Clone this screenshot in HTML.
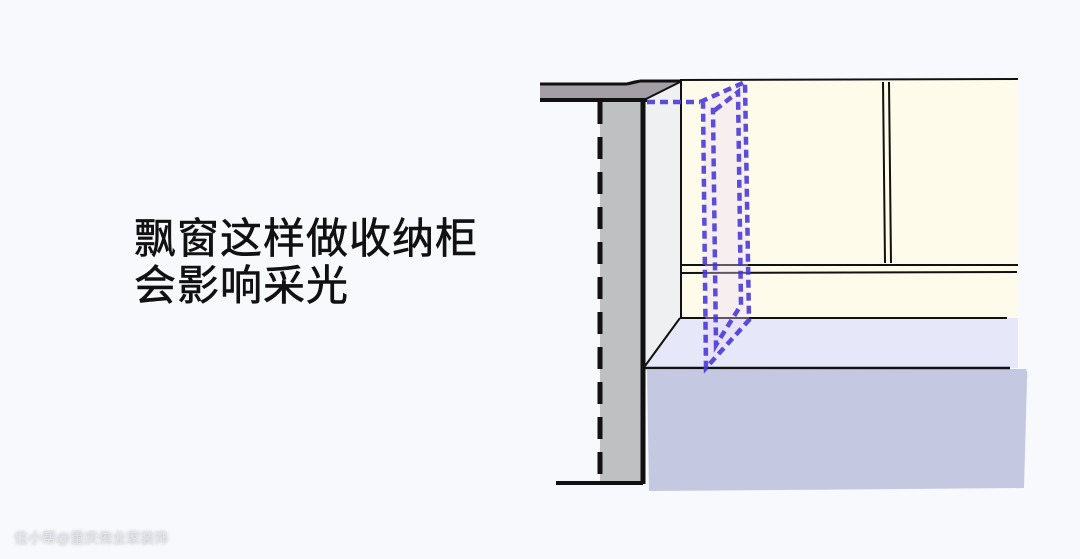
<!DOCTYPE html>
<html><head><meta charset="utf-8"><style>
body{margin:0;width:1080px;height:559px;background:#f8f9fd;overflow:hidden;position:relative;font-family:"Liberation Sans","Noto Sans CJK SC",sans-serif}
.t{position:absolute;left:134px;font-size:42px;color:#111;line-height:1;letter-spacing:1px;-webkit-text-stroke:0.6px #111}
.w{position:absolute;left:14px;top:528px;font-size:14px;color:#e4e6ee;text-shadow:0 0 3px #aaa}
</style></head><body>
<div class="t" style="top:218px">飘窗这样做收纳柜</div>
<div class="t" style="top:265px">会影响采光</div>
<div class="w">住小帮@重庆侑业家装饰</div>
<svg width="1080" height="559" style="position:absolute;left:0;top:0">
<rect x="680" y="80" width="338" height="240" fill="#fffbeb"/>
<polygon points="645,100 680,82 680,318 645,368" fill="#eef0f2"/>
<polygon points="645,368 680,318 1018,318 1018,368" fill="#e6e8f9"/>
<path d="M647,370 L1026,369 Q1028,372 1027,380 L1024,488 L649,491 Z" fill="#c5c8e1"/>
<rect x="600" y="100" width="42" height="383" fill="#bfc0c2"/>
<polygon points="540,83 625,83 635,80 680,81 645,100 540,100" fill="#a49ea6"/>
<line x1="540" y1="84" x2="627" y2="84" stroke="#111" stroke-width="3"/>
<line x1="627" y1="84" x2="640" y2="81" stroke="#111" stroke-width="3"/>
<line x1="640" y1="81" x2="680" y2="81" stroke="#111" stroke-width="3"/>
<line x1="540" y1="100" x2="647" y2="100" stroke="#111" stroke-width="4"/>
<line x1="644" y1="100" x2="680" y2="82" stroke="#111" stroke-width="2"/>
<line x1="643" y1="100" x2="643" y2="484" stroke="#111" stroke-width="5"/>
<line x1="600" y1="102" x2="600" y2="482" stroke="#111" stroke-width="5" stroke-dasharray="22,13"/>
<line x1="556" y1="483" x2="643" y2="483" stroke="#111" stroke-width="4"/>
<line x1="680" y1="80" x2="1018" y2="79" stroke="#111" stroke-width="2"/>
<line x1="681" y1="81" x2="681" y2="318" stroke="#111" stroke-width="2"/>
<line x1="883" y1="82" x2="885" y2="263" stroke="#111" stroke-width="2"/>
<line x1="889" y1="82" x2="891" y2="263" stroke="#111" stroke-width="2"/>
<line x1="680" y1="265" x2="1018" y2="265" stroke="#111" stroke-width="2"/>
<line x1="680" y1="273" x2="1017" y2="272" stroke="#111" stroke-width="2"/>
<line x1="680" y1="318" x2="1007" y2="318" stroke="#111" stroke-width="2"/>
<line x1="680" y1="318" x2="645" y2="366" stroke="#111" stroke-width="2"/>
<line x1="645" y1="368" x2="1010" y2="368" stroke="#111" stroke-width="2.5"/>
<g fill="none" stroke="#4a3ad8" stroke-width="4.5" stroke-dasharray="8,5" opacity="0.9">
<polygon points="700,102 745,82 749,320 706,368 703,102" fill="#e8d8fa" fill-opacity="0.4"/>
<line x1="647" y1="102" x2="700" y2="102"/>
<polygon points="715,110 738,92 741,305 716,345 713,110"/>
</g>
</svg>
</body></html>
